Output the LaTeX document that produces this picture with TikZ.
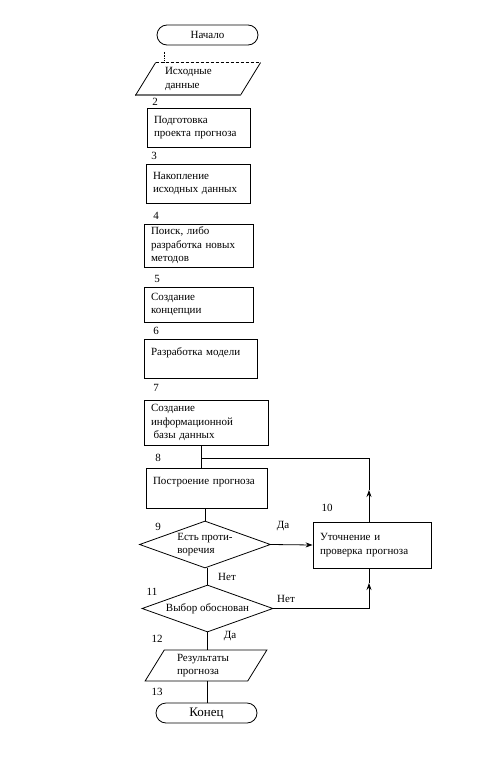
\documentclass[tikz,border=0pt]{standalone}
\usepackage{fontspec}
\setmainfont{Liberation Serif}
\usetikzlibrary{shapes.geometric, arrows.meta}
\begin{document}
\begin{tikzpicture}[>={Stealth[length=7pt, width=5pt]}, x=1pt, y=-1pt, line width=0.8pt,
    every node/.style={font=\fontsize{11}{13.5}\selectfont},
    blk/.style={draw, rectangle, inner xsep=7pt, inner ysep=0pt, align=left},
    term/.style={draw, rectangle, rounded corners=10pt, minimum width=101pt, minimum height=20pt, inner sep=0pt},
    dio/.style={trapezium, trapezium stretches=true, inner sep=0pt, align=left},
    ifbox/.style={draw, diamond, aspect=2.8, inner sep=0pt, minimum width=131pt, minimum height=47pt, align=left}]
    \useasboundingbox (0,0) rectangle (493,771);

    \node[term] (start) at (207.5,35) {Начало};
    \node[dio, trapezium left angle=56, trapezium right angle=124, minimum width=124pt, minimum height=32pt, text width=66pt] (p1) at (198,79) {Исходные\\данные};
    \draw[black!55, line width=2pt] (p1.bottom left corner) -- (p1.bottom right corner);
    \draw (p1.bottom left corner) -- (p1.top left corner);
    \draw[densely dashed] (p1.top left corner) -- (p1.top right corner);
    \draw (p1.top right corner) -- (p1.bottom right corner);
    \draw[densely dotted] ([xshift=-34pt]p1.north) -- ++(0,-11);

    \node (n2) at (155,102) {2};
    \node[blk, text width=89pt, minimum height=39pt] (b2) at (198.5,127.5) {Подготовка\\проекта прогноза};
    \node (n3) at (154,156) {3};
    \node[blk, text width=90pt, minimum height=39pt] (b3) at (198,183.5) {Накопление\\исходных данных};
    \node (n4) at (156,216) {4};
    \node[blk, text width=95pt, minimum height=43pt] (b4) at (198.5,245.5) {Поиск, либо\\разработка новых\\методов};
    \node (n5) at (157,279) {5};
    \node[blk, text width=95pt, minimum height=35pt] (b5) at (198.5,304.5) {Создание\\концепции};
    \node (n6) at (156,331) {6};
    \node[blk, text width=99pt, minimum height=39pt] (b6) at (200.5,358.5) {Разработка модели\\\mbox{}};
    \node (n7) at (156,388) {7};
    \node[blk, text width=110pt, minimum height=45pt] (b7) at (206,422.5) {Создание\\информационной\\\hspace{2.5pt}базы данных};
    \node (n8) at (158,458) {8};
    \node[blk, text width=107pt, minimum height=40pt] (b8) at (206.5,488) {Построение прогноза\\\mbox{}};

    \node (n9) at (158,527) {9};
    \node[ifbox] (d9) at (205,544.5) {Есть проти-\\воречия};
    \node (da1) at (283,526) {Да};
    \node (n10) at (327,508) {10};
    \node[blk, text width=104pt, minimum height=46pt] (b10) at (372,545) {Уточнение и\\проверка прогноза};

    \node (net1) at (227,577) {Нет};
    \node (n11) at (152,592) {11};
    \node[ifbox] (d11) at (207.5,608.5) {Выбор обоснован};
    \node (net2) at (286,599) {Нет};

    \node (n12) at (157,639) {12};
    \node (da2) at (230,636) {Да};
    \node[dio, draw, trapezium left angle=60, trapezium right angle=120, minimum width=122pt, minimum height=31pt, text width=58pt] (p12) at (206,665.5) {Результаты\\прогноза};
    \node (n13) at (157,692) {13};
    \node[term, font=\fontsize{13}{15}\selectfont] (end) at (206.5,713) {Конец};

    \draw ([xshift=-5pt]b7.south) -- ([xshift=-5pt]b7.south |- b8.north);
    \coordinate (c1) at (201,458);
    \coordinate (c2) at (369,458);
    \coordinate (a1) at (369,490);
    \draw[->] (b10.north -| a1) -- (a1);
    \draw (a1) -- (c2) -- (c1);

    \draw (d9.north) -- (d9.north |- b8.south);
    \draw[->] (d9.east) -- (b10.west);
    \draw (d11.north) -- (d11.north |- d9.south);

    \coordinate (c3) at (369,608.5);
    \coordinate (a2) at (369,583);
    \draw[->] (d11.east) -- (c3) -- (a2);
    \draw (a2) -- (b10.south -| a2);

    \draw (d11.south) -- (d11.south |- p12.north);
    \draw (d11.south |- p12.south) -- (d11.south |- end.north);
\end{tikzpicture}
\end{document}
